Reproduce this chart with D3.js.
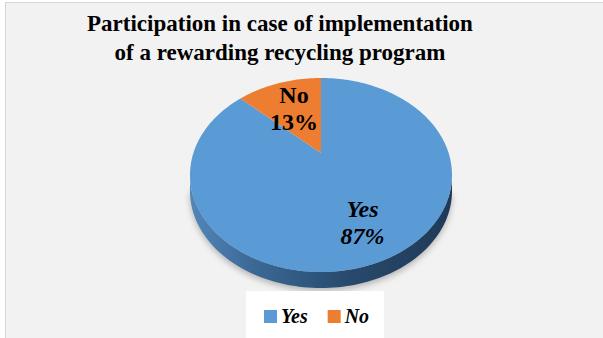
<!DOCTYPE html>
<html>
<head>
<meta charset="utf-8">
<script src="https://cdn.jsdelivr.net/npm/d3@7"></script>
<style>
  html, body { margin: 0; padding: 0; background: #ffffff; }
  svg { display: block; }
</style>
</head>
<body>
<svg id="chart" width="603" height="338"></svg>
<script>
// Survey answers
const categories = ["Yes", "No"];
const values = [87, 13];
const labels = ["87%", "13%"];
const colors = ["#5b9bd5", "#ed7d31"];
const titleLines = ["Participation in case of implementation", "of a rewarding recycling program"];

const W = 603, H = 338;
const svg = d3.select("#chart");
const defs = svg.append("defs");

// chart area
svg.append("rect")
  .attr("x", 5.5).attr("y", 2.5).attr("width", 640).attr("height", 400)
  .attr("fill", "#f2f2f2").attr("stroke", "#d6d6d6").attr("stroke-width", 1);

// title
const title = svg.append("text")
  .attr("text-anchor", "middle")
  .attr("font-family", "'Liberation Serif', 'Times New Roman', serif")
  .attr("font-weight", "bold")
  .attr("font-size", 23)
  .attr("fill", "#000");
titleLines.forEach((t, i) => {
  title.append("tspan").attr("x", 280).attr("y", 31 + i * 29).text(t);
});

// 3D pie: flat disc seen in perspective
const cx = 321, cy = 153;   // projected centre of the disc
const A = 92, B = 127.6, k = 0.2268, depth = 16;
function project(phi, r) {
  // phi: clockwise angle from the back (12 o'clock), r: radius fraction
  const u = r * Math.sin(phi), w = -r * Math.cos(phi);
  const s = 1 / (1 - k * w);
  return [cx + B * u * s, cy + A * w * s];
}

const pie = d3.pie().sort(null).value(d => d)(values);
const N = 240;
const rimPoints = d3.range(N + 1).map(i => project(2 * Math.PI * i / N, 1));

// horizontal extremes of the rim (where the side wall starts)
let leftIdx = 0, rightIdx = 0;
rimPoints.forEach((p, i) => {
  if (p[0] < rimPoints[leftIdx][0]) leftIdx = i;
  if (p[0] > rimPoints[rightIdx][0]) rightIdx = i;
});
const L = rimPoints[leftIdx], R = rimPoints[rightIdx];

// front arc from right extreme to left extreme (clockwise through the bottom)
const frontArc = rimPoints.slice(rightIdx, leftIdx + 1);

// soft shadow under the disc
const blur = defs.append("filter").attr("id", "shadow")
  .attr("x", "-20%").attr("y", "-20%").attr("width", "140%").attr("height", "140%");
blur.append("feGaussianBlur").attr("stdDeviation", 3);
const line = d3.line();
const sidePts = [R].concat(frontArc.map(p => [p[0], p[1] + depth])).concat([L]);
svg.append("path")
  .attr("d", line(frontArc.map(p => [p[0], p[1] + depth + 3])) + "L" + (L[0] + 2) + "," + (L[1] + depth) + "Z")
  .attr("fill", "#9a9a9a").attr("opacity", 0.7).attr("filter", "url(#shadow)");

// side wall
const sideGrad = defs.append("linearGradient").attr("id", "side")
  .attr("gradientUnits", "userSpaceOnUse")
  .attr("x1", L[0]).attr("x2", R[0]).attr("y1", 0).attr("y2", 0);
sideGrad.append("stop").attr("offset", "0%").attr("stop-color", "#5386b9");
sideGrad.append("stop").attr("offset", "25%").attr("stop-color", "#3a6895");
sideGrad.append("stop").attr("offset", "60%").attr("stop-color", "#284a6d");
sideGrad.append("stop").attr("offset", "100%").attr("stop-color", "#1f3a57");
svg.append("path")
  .attr("d", line(sidePts.concat(frontArc.slice().reverse())) + "Z")
  .attr("fill", "url(#side)");

// top faces of the slices
pie.forEach((d, i) => {
  const steps = Math.max(2, Math.ceil((d.endAngle - d.startAngle) / (2 * Math.PI) * N));
  const pts = [[cx, cy]].concat(d3.range(steps + 1).map(j =>
    project(d.startAngle + (d.endAngle - d.startAngle) * j / steps, 1)));
  svg.append("path")
    .attr("d", line(pts) + "Z")
    .attr("fill", colors[i]);
});

// data labels
const labelRadius = [0.7, 0.6];
pie.forEach((d, i) => {
  const mid = (d.startAngle + d.endAngle) / 2;
  const p = project(mid, labelRadius[i]);
  const t = svg.append("text")
    .attr("text-anchor", "middle")
    .attr("font-family", "'Liberation Serif', 'Times New Roman', serif")
    .attr("font-weight", "bold")
    .attr("font-style", i === 0 ? "italic" : "normal")
    .attr("font-size", 24)
    .attr("fill", "#000");
  t.append("tspan").attr("x", p[0]).attr("y", p[1] - 5).text(categories[i]);
  t.append("tspan").attr("x", p[0]).attr("y", p[1] + 22).text(labels[i]);
});

// legend
svg.append("rect")
  .attr("x", 246).attr("y", 291).attr("width", 138).attr("height", 60)
  .attr("fill", "#ffffff");
let lx = 264;
categories.forEach((c, i) => {
  svg.append("rect").attr("x", lx).attr("y", 310).attr("width", 13).attr("height", 13)
    .attr("fill", colors[i]);
  const t = svg.append("text")
    .attr("x", lx + 17).attr("y", 323)
    .attr("font-family", "'Liberation Serif', 'Times New Roman', serif")
    .attr("font-weight", "bold").attr("font-style", "italic")
    .attr("font-size", 20).attr("fill", "#000")
    .text(c);
  lx += 17 + t.node().getComputedTextLength() + 20;
});
</script>
</body>
</html>
